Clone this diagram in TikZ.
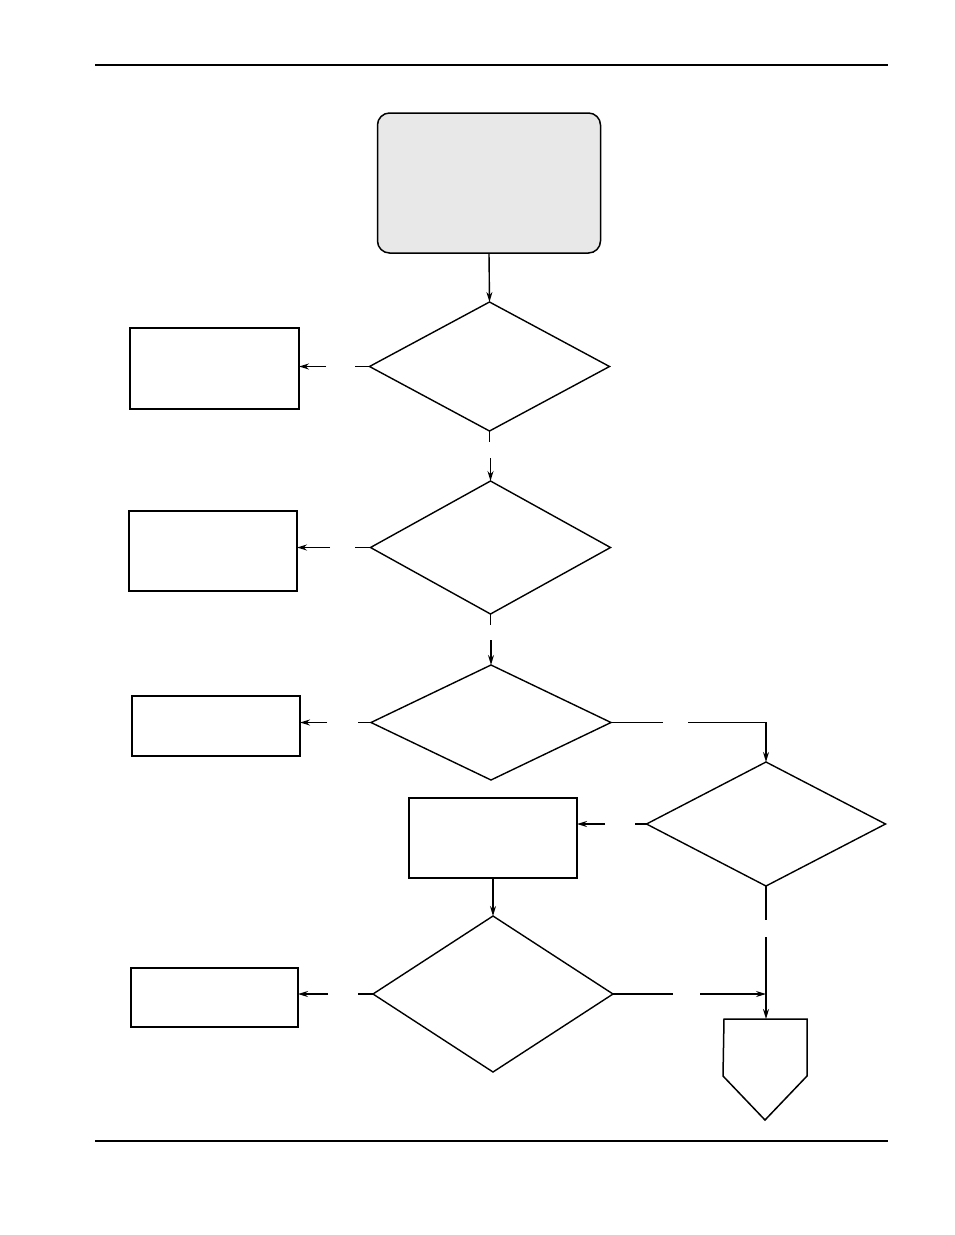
\documentclass[tikz,border=0pt]{standalone}
\usetikzlibrary{shapes.geometric,arrows.meta}
\definecolor{startfill}{HTML}{E8E8E8}
\begin{document}
\begin{tikzpicture}[x=1pt,y=-1pt,
  line join=miter,
  decision/.style={diamond, draw, line width=1.4pt, inner sep=0pt, outer sep=0pt},
  procbox/.style={rectangle, draw, line width=1.5pt, inner sep=0pt, outer sep=0pt},
  conn/.style={line width=1.4pt},
  arr/.style={line width=1.4pt, -{Stealth[length=10pt,width=6pt]}},
  rule/.style={line width=1.4pt}]
\useasboundingbox (0,0) rectangle (954,1235);
% page rules
\coordinate (rt1) at (95,65); \coordinate (rt2) at (888,65);
\coordinate (rb1) at (95,1141); \coordinate (rb2) at (888,1141);
\draw[rule] (rt1) -- (rt2);
\draw[line width=1.9pt] (rb1) -- (rb2);
% nodes
\node[procbox, rounded corners=12pt, fill=startfill, minimum width=223pt, minimum height=140pt] (start) at (489,183) {};
\node[decision, minimum width=240pt, minimum height=129pt] (d1) at (489.5,366.5) {};
\node[decision, minimum width=240pt, minimum height=133pt] (d2) at (490.5,547.5) {};
\node[decision, minimum width=240pt, minimum height=115pt] (d3) at (491,722.5) {};
\node[decision, minimum width=239pt, minimum height=124pt] (d4) at (766,824) {};
\node[decision, minimum width=240pt, minimum height=156pt] (d5) at (493,994) {};
\node[procbox, minimum width=169pt, minimum height=81pt] (b1) at (214.5,368.5) {};
\node[procbox, minimum width=168pt, minimum height=80pt] (b2) at (213,551) {};
\node[procbox, minimum width=168pt, minimum height=60pt] (b3) at (216,726) {};
\node[procbox, minimum width=168pt, minimum height=80pt] (b4) at (493,838) {};
\node[procbox, minimum width=167pt, minimum height=59pt] (b5) at (214.5,997.5) {};
% off-page connector
\coordinate (off) at (766,1019);
\draw[line width=1.5pt] (724,1019) -- (807,1019) -- (807,1076) -- (765,1120) -- (723,1076) -- cycle;
% gap coordinates
\coordinate (g1a) at (355,0); \coordinate (g1b) at (326,0);
\coordinate (g2a) at (0,442); \coordinate (g2b) at (0,458);
\coordinate (g3a) at (355,0); \coordinate (g3b) at (330,0);
\coordinate (g4a) at (0,625); \coordinate (g4b) at (0,640);
\coordinate (g5a) at (358,0); \coordinate (g5b) at (327,0);
\coordinate (g6a) at (663,0); \coordinate (g6b) at (688,0);
\coordinate (g7a) at (635,0); \coordinate (g7b) at (605,0);
\coordinate (g8a) at (358,0); \coordinate (g8b) at (328,0);
\coordinate (g9a) at (673,0); \coordinate (g9b) at (700,0);
\coordinate (g10a) at (0,920); \coordinate (g10b) at (0,937);
% connectors
\draw[arr] (start.south) -- (d1.north);
\draw[conn] (d1.west) -- (g1a |- d1.west);
\draw[arr] (g1b |- d1.west) -- (b1.east |- d1.west);
\draw[conn] (d1.south) -- (d1.south |- g2a);
\draw[arr] (d2.north |- g2b) -- (d2.north);
\draw[conn] (d2.west) -- (g3a |- d2.west);
\draw[arr] (g3b |- d2.west) -- (b2.east |- d2.west);
\draw[conn] (d2.south) -- (d2.south |- g4a);
\draw[arr] (d3.north |- g4b) -- (d3.north);
\draw[conn] (d3.west) -- (g5a |- d3.west);
\draw[arr] (g5b |- d3.west) -- (b3.east |- d3.west);
\draw[conn] (d3.east) -- (g6a |- d3.east);
\draw[arr] (g6b |- d3.east) -| (d4.north);
\draw[conn] (d4.west) -- (g7a |- d4.west);
\draw[arr] (g7b |- d4.west) -- (b4.east |- d4.west);
\draw[arr] (b4.south) -- (d5.north);
\draw[conn] (d5.west) -- (g8a |- d5.west);
\draw[arr] (g8b |- d5.west) -- (b5.east |- d5.west);
\coordinate (join) at (766,994);
\draw[conn, line width=1.1pt] (d5.east) -- (g9a |- d5.east);
\draw[arr, line width=1.1pt] (g9b |- d5.east) -- (join);
\draw[conn, line width=1.9pt] (d4.south) -- (d4.south |- g10a);
\draw[arr, line width=1.9pt] (d4.south |- g10b) -- (off);
\end{tikzpicture}
\end{document}
